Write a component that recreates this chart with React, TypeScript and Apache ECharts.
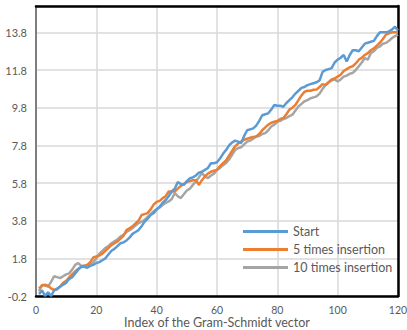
import React, { useEffect, useRef } from "react";
import * as echarts from "echarts";

const xTicks = [0, 20, 40, 60, 80, 100, 120];
const yTickLabels = ["-0.2", "1.8", "3.8", "5.8", "7.8", "9.8", "11.8", "13.8"];
const seriesNames = ["Start", "5 times insertion", "10 times insertion"];

const startValues = [
  -0.1, 0.1, -0.2, 0.0, -0.2, 0.1, 0.2, 0.3, 0.4, 0.5,
  0.7, 0.8, 1.0, 1.2, 1.35, 1.35, 1.3, 1.4, 1.45, 1.55,
  1.6, 1.7, 1.8, 2.0, 2.2, 2.3, 2.45, 2.6, 2.65, 2.75,
  2.9, 3.1, 3.2, 3.3, 3.5, 3.75, 3.9, 4.1, 4.2, 4.4,
  4.55, 4.75, 4.9, 5.1, 5.35, 5.5, 5.85, 5.75, 5.7, 5.9,
  6.05, 6.1, 6.2, 6.35, 6.4, 6.5, 6.6, 6.85, 6.85, 6.9,
  7.1, 7.35, 7.55, 7.8, 7.95, 8.05, 8.0, 7.92, 8.3, 8.6,
  8.65, 8.7, 8.85, 9.1, 9.4, 9.45, 9.5, 9.7, 9.95, 9.9,
  9.9, 9.85, 10.05, 10.2, 10.35, 10.55, 10.7, 10.85, 10.9, 11.0,
  11.05, 11.1, 11.15, 11.25, 11.7, 11.8, 11.85, 11.9, 12.2, 12.35,
  12.45, 12.6, 12.25, 12.6, 12.85, 12.85, 12.8, 13.0, 13.2, 13.25,
  13.3, 13.35, 13.6, 13.8, 13.8, 13.8, 13.85, 13.95, 14.1, 13.9,
];

const fiveTimesValues = [
  0.2, 0.35, 0.4, 0.35, 0.2, 0.12, 0.15, 0.3, 0.5, 0.6,
  0.8, 0.95, 1.1, 1.25, 1.35, 1.4, 1.45, 1.6, 1.85, 1.9,
  1.95, 2.05, 2.2, 2.35, 2.5, 2.6, 2.7, 2.85, 3.0, 3.3,
  3.4, 3.5, 3.65, 3.8, 4.1, 4.15, 4.2, 4.4, 4.65, 4.8,
  4.85, 5.0, 5.1, 5.35, 5.35, 5.35, 5.5, 5.65, 5.75, 5.85,
  5.9, 5.95, 5.95, 5.7, 5.95, 6.15, 6.3, 6.4, 6.45, 6.5,
  6.7, 6.85, 7.0, 7.25, 7.5, 7.75, 7.9, 8.0, 8.1, 8.15,
  8.2, 8.25, 8.27, 8.4, 8.6, 8.75, 8.9, 9.0, 9.05, 9.1,
  9.2, 9.25, 9.45, 9.7, 9.8, 9.95, 10.2, 10.45, 10.65, 10.7,
  10.7, 10.75, 10.76, 10.9, 11.05, 11.0, 11.15, 11.3, 11.35, 11.45,
  11.55, 11.75, 11.85, 11.95, 12.0, 12.15, 12.35, 12.45, 12.6, 12.7,
  12.85, 12.95, 13.1, 13.25, 13.45, 13.68, 13.75, 13.8, 13.8, 13.8,
];

const tenTimesValues = [
  0.05, 0.4, 0.35, 0.3, 0.55, 0.85, 0.8, 0.75, 0.85, 0.95,
  1.0, 1.2, 1.45, 1.55, 1.4, 1.4, 1.45, 1.45, 1.6, 1.8,
  2.05, 2.2, 2.35, 2.45, 2.6, 2.7, 2.8, 2.95, 3.05, 3.2,
  3.3, 3.4, 3.55, 3.67, 3.75, 3.84, 4.0, 4.15, 4.3, 4.4,
  4.5, 4.64, 4.75, 4.82, 4.95, 5.26, 5.1, 5.0, 5.2, 5.4,
  5.5, 5.7, 5.88, 6.1, 6.33, 6.15, 6.06, 6.2, 6.3, 6.5,
  6.6, 6.75, 6.86, 7.05, 7.3, 7.55, 7.65, 7.7, 7.85, 8.0,
  8.05, 8.15, 8.27, 8.3, 8.4, 8.45, 8.6, 8.8, 8.9, 9.05,
  9.1, 9.2, 9.25, 9.35, 9.43, 9.65, 9.87, 10.0, 10.14, 10.2,
  10.3, 10.35, 10.4, 10.55, 10.8, 11.0, 11.15, 11.25, 11.3, 11.2,
  11.3, 11.45, 11.5, 11.6, 11.65, 11.8, 12.0, 12.2, 12.44, 12.35,
  12.7, 12.8, 12.97, 13.05, 13.2, 13.24, 13.35, 13.5, 13.6, 13.68,
];

const colors = ["#5B9BD5", "#ED7D31", "#A5A5A5"];
const FONT = "Lato, 'Open Sans', sans-serif";

const toPairs = (vals: number[]) => vals.map((v, i) => [i + 1, v]);

export default function App() {
  const ref = useRef<HTMLDivElement>(null);
  useEffect(() => {
    if (!ref.current) return;
    const chart = echarts.init(ref.current, null, { renderer: "svg" });
    const yMin = parseFloat(yTickLabels[0]);
    const yStep = parseFloat(yTickLabels[1]) - yMin;
    const allSeries = [startValues, fiveTimesValues, tenTimesValues];
    chart.setOption({
      animation: false,
      color: colors,
      grid: { left: 36, right: 9, top: 6, bottom: 34, containLabel: false, outerBoundsMode: "none" },
      legend: {
        orient: "vertical",
        left: 238,
        top: 220,
        icon: "rect",
        itemWidth: 45,
        itemHeight: 3,
        itemGap: 5,
        textStyle: { fontFamily: FONT, fontSize: 12.5, color: "#595959" },
        data: seriesNames,
      },
      xAxis: [
        {
          type: "value",
          min: xTicks[0],
          max: xTicks[xTicks.length - 1],
          interval: xTicks[1] - xTicks[0],
          name: "Index of the Gram-Schmidt vector",
          nameLocation: "middle",
          nameGap: 20,
          nameMoveOverlap: false,
          nameTextStyle: { fontFamily: FONT, fontSize: 12.5, color: "#595959" },
          axisLine: { show: true, onZero: false, lineStyle: { color: "#000", width: 2.5 } },
          axisTick: { show: false },
          axisLabel: { fontFamily: FONT, fontSize: 10.5, color: "#595959", margin: 8 },
          splitLine: { show: true, lineStyle: { color: "#d9d9d9", width: 1.5 } },
        },
        {
          type: "value",
          position: "top",
          min: xTicks[0],
          max: xTicks[xTicks.length - 1],
          axisLine: { show: true, onZero: false, lineStyle: { color: "#000", width: 2.5 } },
          axisTick: { show: false },
          axisLabel: { show: false },
          splitLine: { show: false },
        },
      ],
      yAxis: [
        {
          type: "value",
          min: yMin,
          max: 15.2,
          interval: yStep,
          axisLine: { show: true, onZero: false, lineStyle: { color: "#7f7f7f", width: 2 } },
          axisTick: { show: false },
          axisLabel: {
            fontFamily: FONT,
            fontSize: 11,
            color: "#595959",
            margin: 9,
            showMaxLabel: false,
            formatter: (v: number) => {
              const s = v.toFixed(1);
              return yTickLabels.indexOf(s) >= 0 ? s : "";
            },
          },
          splitLine: { show: true, lineStyle: { color: "#d9d9d9", width: 1.5 } },
        },
        {
          type: "value",
          position: "right",
          min: yMin,
          max: 15.2,
          axisLine: { show: true, onZero: false, lineStyle: { color: "#000", width: 2.5 } },
          axisTick: { show: false },
          axisLabel: { show: false },
          splitLine: { show: false },
        },
      ],
      series: allSeries.map((vals, k) => ({
        name: seriesNames[k],
        type: "line",
        data: toPairs(vals),
        symbol: "none",
        lineStyle: { width: 2.5, color: colors[k] },
        itemStyle: { color: colors[k] },
        z: 3 - k,
      })),
    });
    return () => chart.dispose();
  }, []);
  return (
    <div
      ref={ref}
      style={{ position: "fixed", left: 0, top: 0, width: 407, height: 330, background: "#fff" }}
    />
  );
}
